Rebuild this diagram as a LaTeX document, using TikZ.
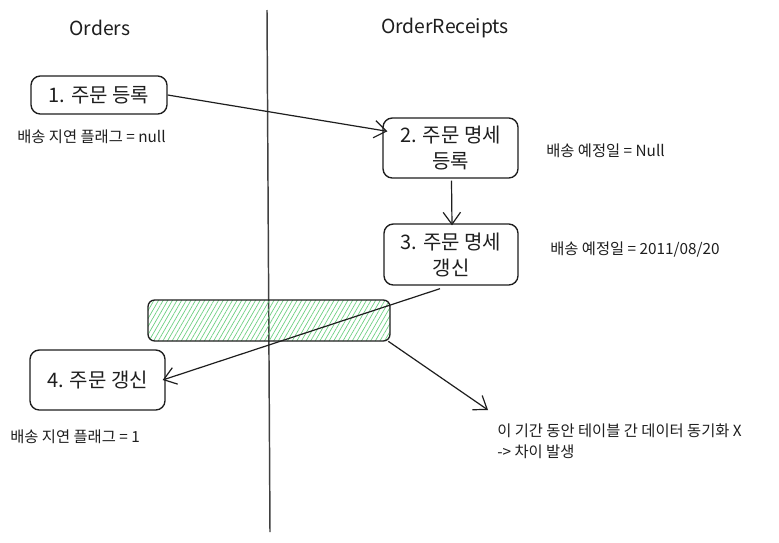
\documentclass[tikz,border=0pt]{standalone}
\usepackage{fontspec}
\setmainfont{Noto Sans CJK KR}
\usetikzlibrary{arrows.meta,patterns.meta,calc}
\newlength\px
\setlength\px{0.75pt}
\definecolor{ink}{HTML}{1E1E1E}
\definecolor{hatch}{HTML}{69CF7E}
\begin{document}
\begin{tikzpicture}[x=0.75pt,y=-0.75pt,
  box/.style={draw=ink,line width=1pt,rounded corners=7pt,align=center,font=\fontsize{15}{19.5}\selectfont,text=ink,inner sep=0pt},
  note/.style={anchor=west,font=\fontsize{11.5}{16}\selectfont,text=ink,inner sep=0pt,align=left},
  title/.style={font=\fontsize{14.5}{17}\selectfont,text=ink,inner sep=0pt},
  arr/.style={draw=ink,line width=0.9pt,-{Straight Barb[length=9pt,width=13pt,line width=0.9pt]}}]
\useasboundingbox[fill=white] (0,0) rectangle (779,543);
% divider
\coordinate (top) at (267,10);
\coordinate (bot) at (270,532);
\draw[ink!85,line width=1.1pt] (top) -- (bot);
% titles
\node[title] (t1) at (100,28) {Orders};
\node[title] (t2) at (445,28) {OrderReceipts};
% boxes
\node[box,minimum width=136\px,minimum height=38\px] (b1) at (99,95) {1. 주문 등록};
\node[box,minimum width=135\px,minimum height=60\px] (b2) at (450.5,148) {2. 주문 명세\\등록};
\node[box,minimum width=134\px,minimum height=61\px] (b3) at (451,254.5) {3. 주문 명세\\갱신};
\node[box,minimum width=135\px,minimum height=60\px] (b4) at (97.5,380) {4. 주문 갱신};
% hatched period
\node[draw=ink,line width=1pt,rounded corners=5pt,minimum width=242\px,minimum height=41\px,
  pattern={Lines[angle=60,distance=3pt,line width=0.5pt]},pattern color=hatch,inner sep=0pt] (g) at (269,320.5) {};
% notes
\node[note] (n1) at (17,137) {배송 지연 플래그 = null};
\node[note] (n2) at (546,151) {배송 예정일 = Null};
\node[note] (n3) at (550,250) {배송 예정일 = 2011/08/20};
\node[note] (n4) at (10,437) {배송 지연 플래그 = 1};
\node[note] (n5) at (497,441) {이 기간 동안 테이블 간 데이터 동기화 X\\-> 차이 발생};
% connectors
\draw[arr] (b1.east) -- ($(b2.north west)+(5,14)$);
\draw[arr] ($(b2.south)+(1,2)$) -- ($(b3.north)+(1,2)$);
\draw[arr] ($(b3.south)+(-11,3)$) -- ($(b4.east)+(-3,0)$);
\coordinate (gap) at (488,410);
\draw[arr] ($(g.south east)+(-2,0)$) -- (gap);
\end{tikzpicture}
\end{document}
